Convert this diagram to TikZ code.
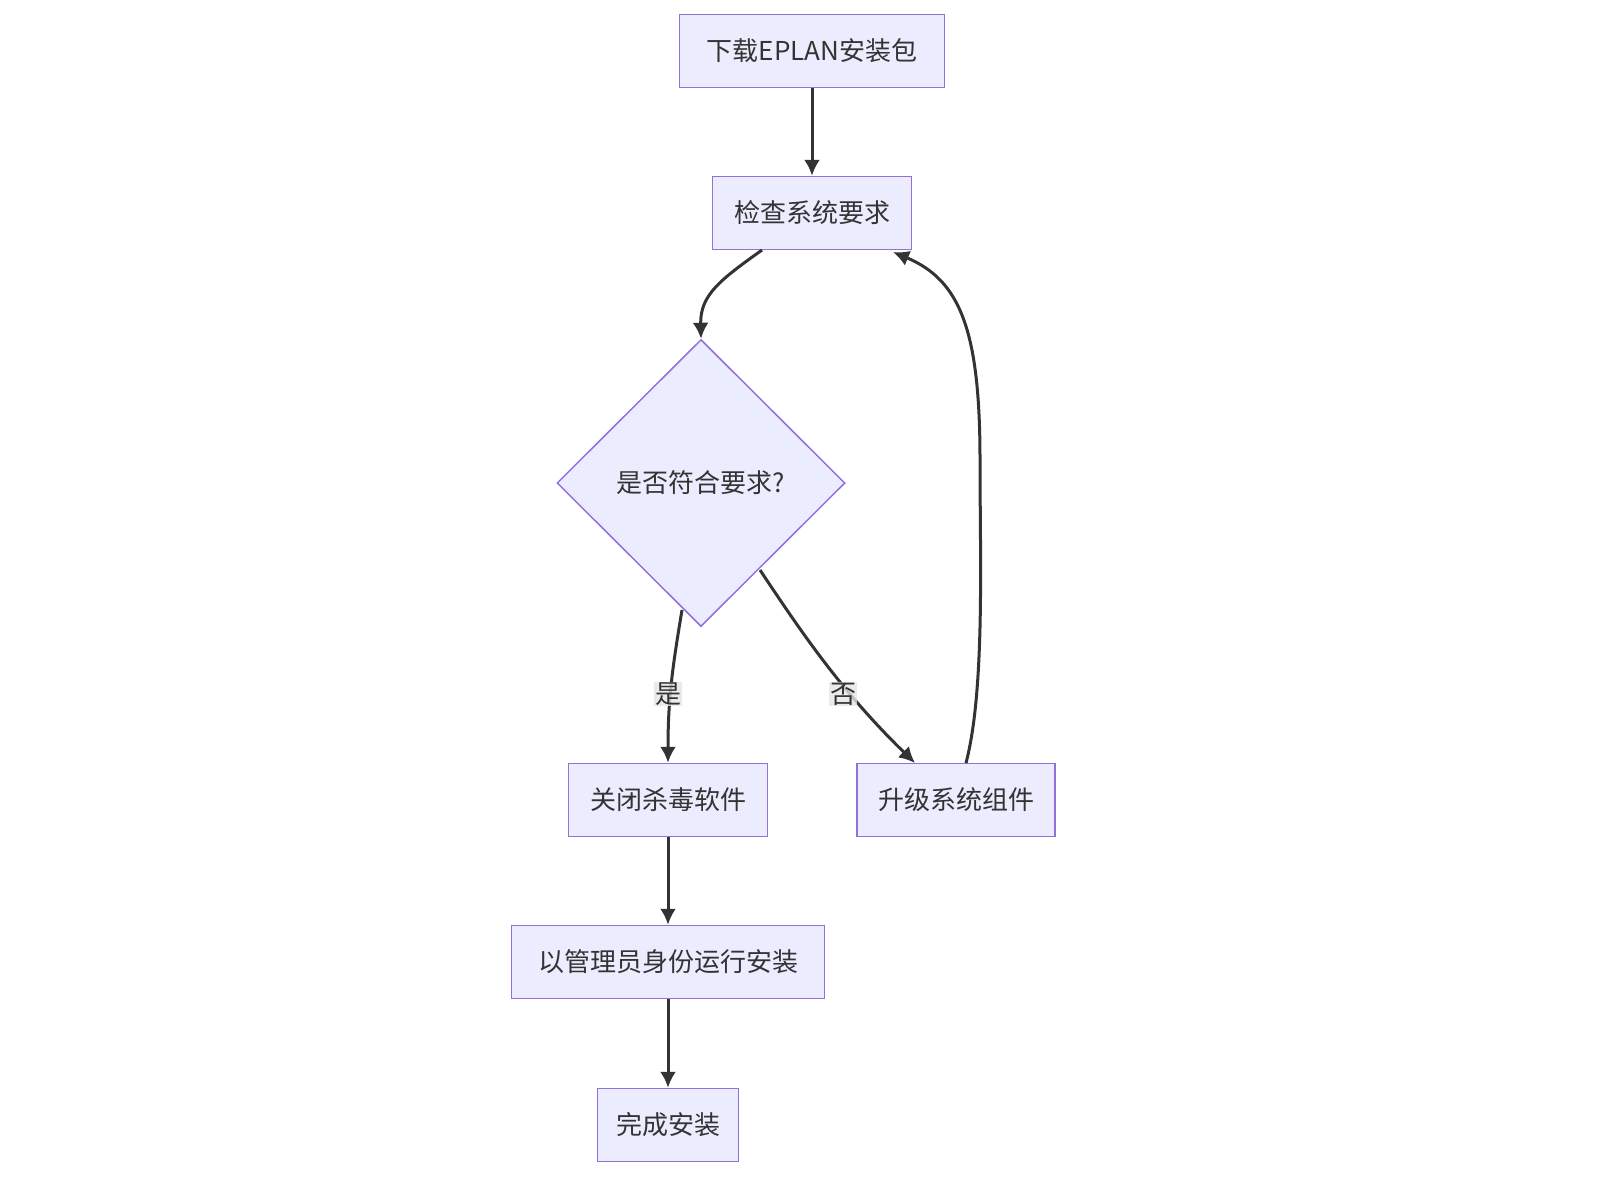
\documentclass[tikz,border=0pt]{standalone}
\usepackage{fontspec}
\setmainfont{Noto Sans CJK SC}
\usetikzlibrary{shapes.geometric,arrows.meta}
\definecolor{nfill}{HTML}{ECECFF}
\definecolor{nline}{HTML}{9370DB}
\definecolor{eline}{HTML}{333333}
\begin{document}
\begin{tikzpicture}[x=1pt,y=-1pt,
  box/.style={draw=nline,fill=nfill,line width=1.5pt,minimum height=73pt,inner sep=0pt,font=\fontsize{26}{30}\selectfont,text=eline},
  dia/.style={diamond,draw=nline,fill=nfill,line width=1.5pt,minimum width=288pt,minimum height=287pt,inner sep=0pt,font=\fontsize{26}{30}\selectfont,text=eline},
  edge/.style={draw=eline,line width=3pt,-{Latex[length=16pt,width=16pt]}},
  lbl/.style={fill=black!10,fill opacity=0.8,text opacity=1,inner sep=1pt,font=\fontsize{26}{30}\selectfont,text=eline}]
\useasboundingbox (0,0) rectangle (1600,1200);
\node[box,minimum width=265pt] (A) at (812,51) {下载EPLAN安装包};
\node[box,minimum width=199pt] (B) at (812,213) {检查系统要求};
\node[dia] (C) at (701,483) {是否符合要求?};
\node[box,minimum width=199pt] (D) at (668,800) {关闭杀毒软件};
\node[box,minimum width=198pt] (E) at (956,800) {升级系统组件};
\node[box,minimum width=313pt] (F) at (668,962) {以管理员身份运行安装};
\node[box,minimum width=141pt] (G) at (668,1125) {完成安装};
\coordinate (b1) at (762,250);
\coordinate (c1) at (682,610);
\coordinate (c2) at (760,570);
\coordinate (e1) at (966,763);
\coordinate (b2) at (893,252);
\draw[edge] (A) -- (B);
\draw[edge] (b1) .. controls (720,280) and (700,295) .. (C.north);
\draw[edge] (c1) .. controls (672,670) and (668,700) .. (D.north);
\draw[edge] (c2) .. controls (800,630) and (840,690) .. (915,763);
\draw[edge] (e1) .. controls (985,690) and (980,560) .. (980,460) .. controls (980,330) and (960,280) .. (b2);
\node[lbl] (l1) at (668,694) {是};
\node[lbl] (l2) at (843,694) {否};
\draw[edge] (D) -- (F);
\draw[edge] (F) -- (G);
\end{tikzpicture}
\end{document}
